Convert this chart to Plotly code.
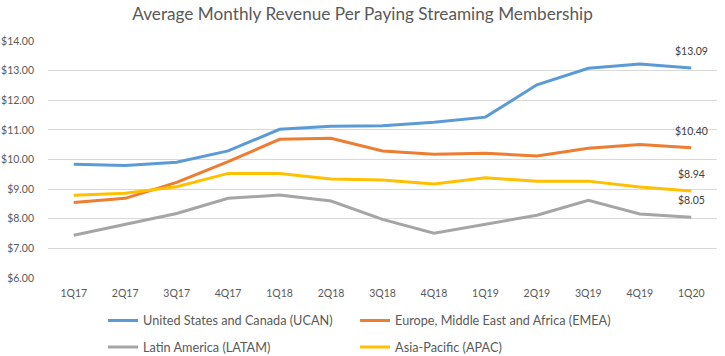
import plotly.graph_objects as go

quarters = ["1Q17", "2Q17", "3Q17", "4Q17", "1Q18", "2Q18", "3Q18", "4Q18",
            "1Q19", "2Q19", "3Q19", "4Q19", "1Q20"]
ucan = [9.84, 9.80, 9.91, 10.29, 11.02, 11.12, 11.14, 11.26, 11.43, 12.52, 13.08, 13.22, 13.09]
emea = [8.55, 8.69, 9.23, 9.93, 10.68, 10.72, 10.29, 10.18, 10.21, 10.12, 10.38, 10.51, 10.40]
latam = [7.44, 7.82, 8.18, 8.69, 8.80, 8.60, 7.98, 7.51, 7.82, 8.12, 8.62, 8.16, 8.05]
apac = [8.79, 8.86, 9.08, 9.53, 9.53, 9.34, 9.31, 9.17, 9.38, 9.27, 9.27, 9.07, 8.94]

series = [
    ("United States and Canada (UCAN)", ucan, "#5B9BD5", "legend", "g1"),
    ("Europe, Middle East and Africa (EMEA)", emea, "#ED7D31", "legend2", "g3"),
    ("Latin America (LATAM)", latam, "#A5A5A5", "legend", "g2"),
    ("Asia-Pacific (APAC)", apac, "#FFC000", "legend2", "g4"),
]

FONT = "Lato"
GREY = "#595959"

fig = go.Figure()
for name, vals, color, leg, grp in series:
    fig.add_trace(go.Scatter(
        x=quarters, y=vals, mode="lines", name=name,
        line=dict(color=color, width=3), legend=leg, legendgroup=grp,
    ))
    fig.add_annotation(
        x=quarters[-1], y=vals[-1], text=f"${vals[-1]:.2f}", showarrow=False,
        yshift=17, font=dict(family=FONT, size=10.5, color="#404040"),
    )

legend_common = dict(
    orientation="v", font=dict(family=FONT, size=12.7, color=GREY),
    bgcolor="rgba(0,0,0,0)", tracegroupgap=7, yanchor="top",
    xanchor="left", xref="paper", yref="paper",
)

fig.update_layout(
    width=725, height=356,
    margin=dict(l=48, r=8, t=41, b=78, autoexpand=False),
    paper_bgcolor="white", plot_bgcolor="white",
    hovermode=False,
    title=dict(text="Average Monthly Revenue Per Paying Streaming Membership",
               x=0.5, xanchor="center", y=0.9615, yanchor="middle",
               font=dict(family=FONT, size=17.2, color=GREY)),
    font=dict(family=FONT, size=11, color=GREY),
    showlegend=True,
    legend=dict(**legend_common, x=0.0822, y=-0.117),
    legend2=dict(**legend_common, x=0.459, y=-0.117),
    xaxis=dict(type="category", showgrid=False, zeroline=False,
               showline=False, ticks="", ticklabelstandoff=7,
               tickfont=dict(family=FONT, size=10.5, color=GREY),
               range=[-0.5, len(quarters) - 0.5]),
    yaxis=dict(range=[6, 14], dtick=1, tickprefix="$", tickformat=".2f",
               showgrid=True, gridcolor="#D9D9D9", gridwidth=1,
               zeroline=False, showline=False, ticks="", ticklabelstandoff=13,
               tickfont=dict(family=FONT, size=10.5, color=GREY)),
)

# remove the browser's default body margin so the chart sits at the page corner
fig.write_html("out.html",
               config={"displayModeBar": False},
               post_script="document.body.style.margin='0';")
